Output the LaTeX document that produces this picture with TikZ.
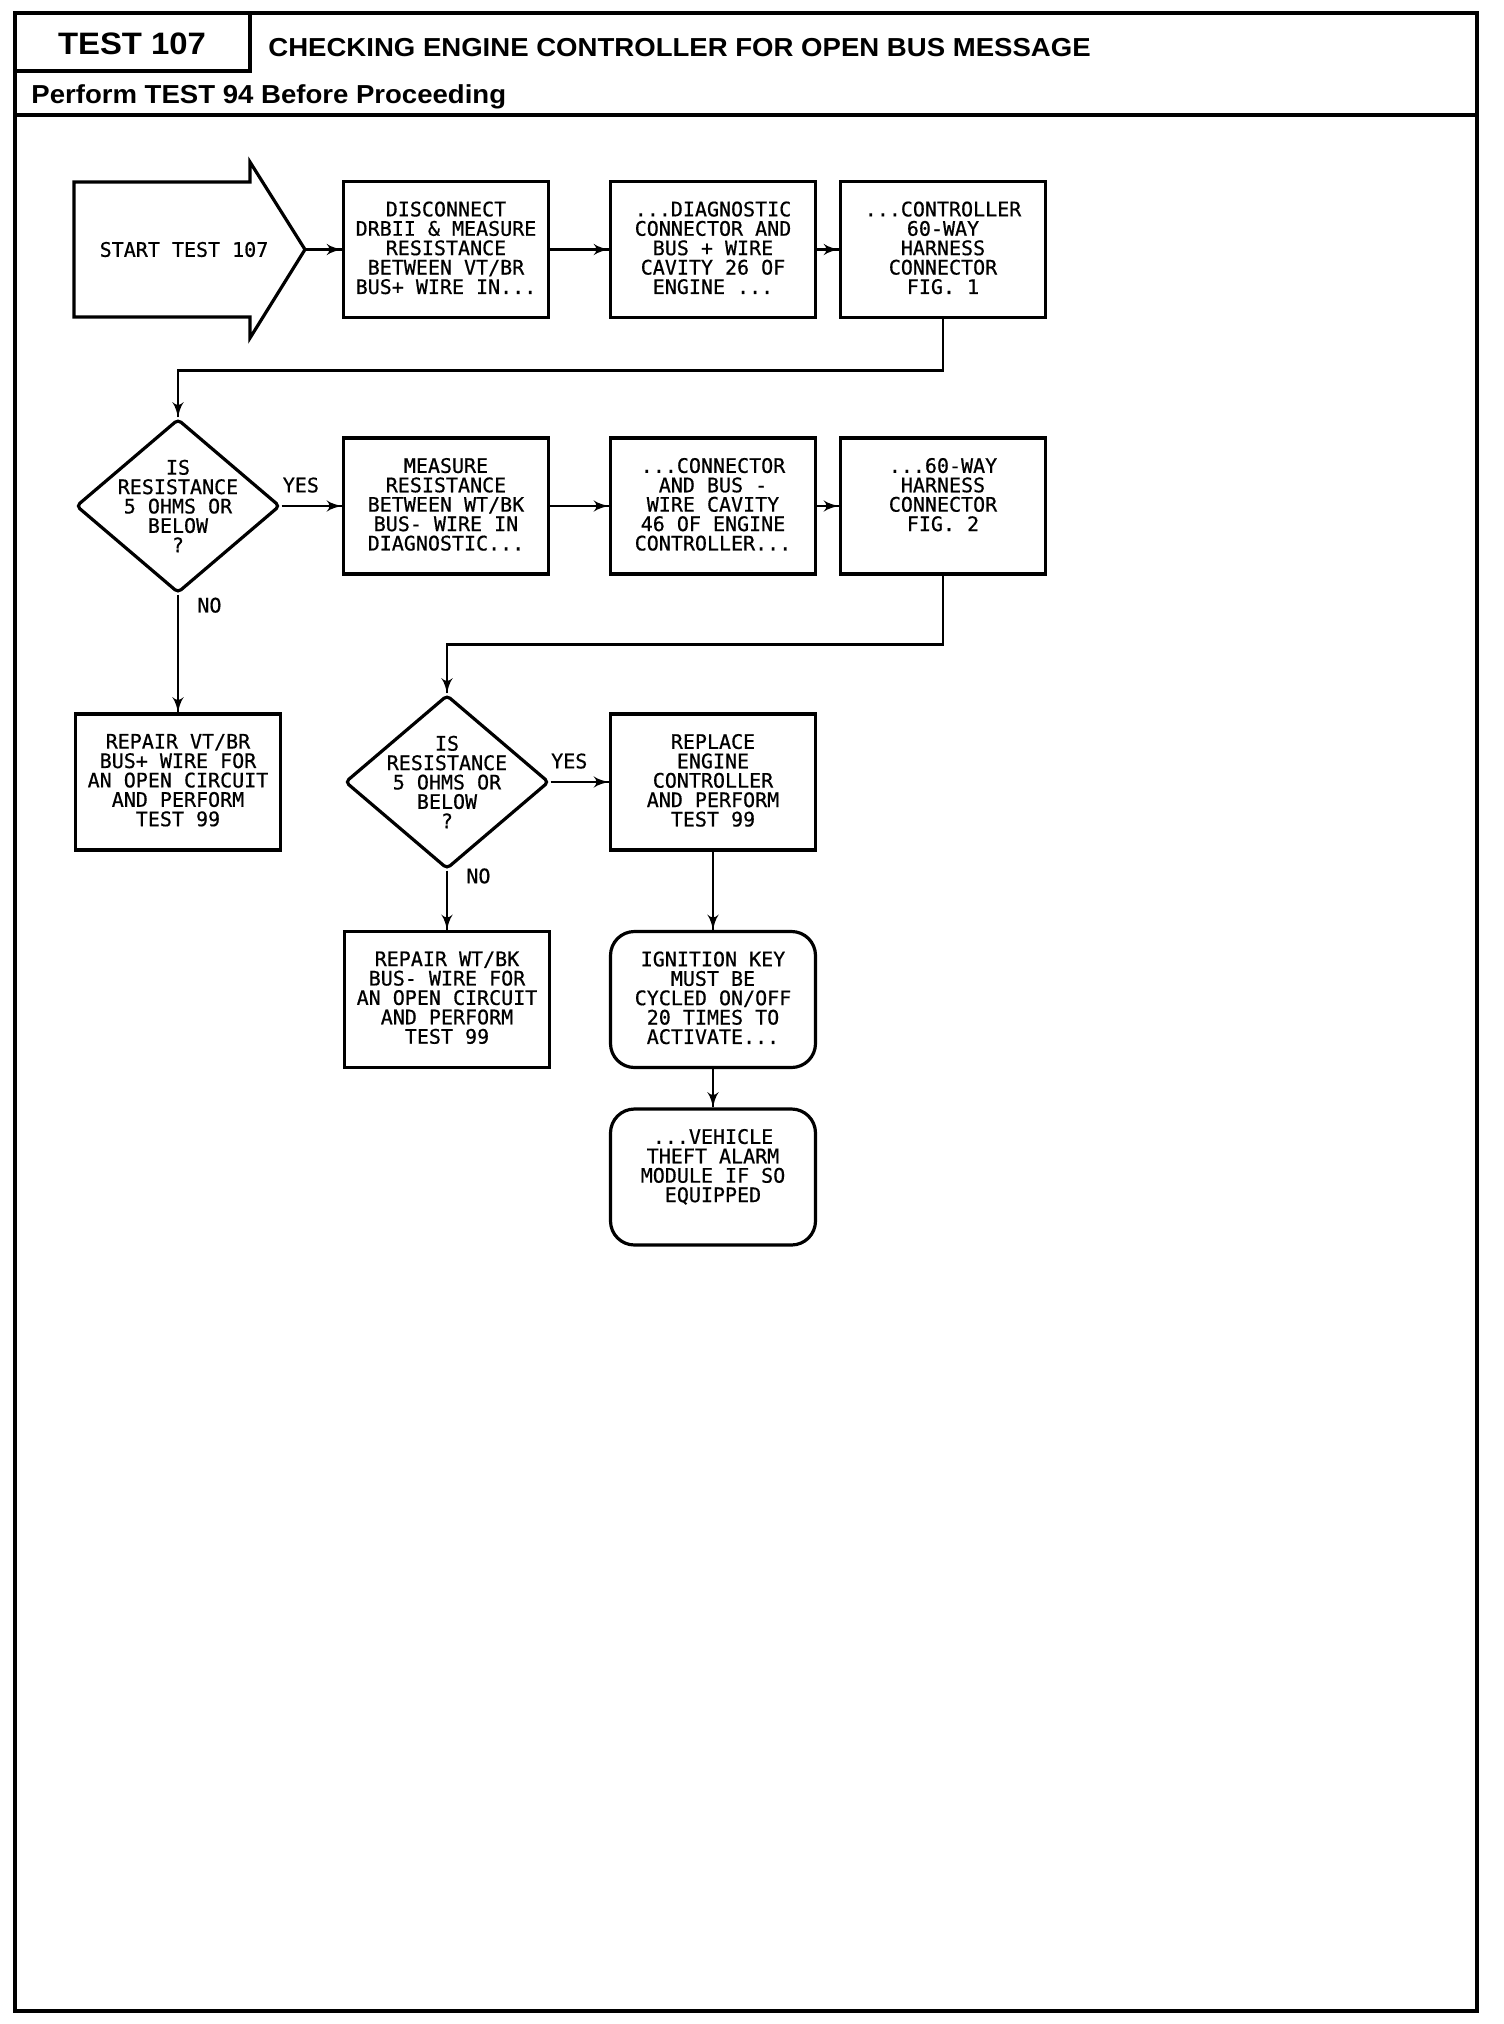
\documentclass[tikz,border=0pt]{standalone}
\usepackage{fontspec}
\usepackage{tikz}
\usetikzlibrary{arrows}
\usetikzlibrary{decorations.markings}
\usetikzlibrary{shapes.geometric}
\usetikzlibrary{positioning}
\newfontfamily\plotfont[FakeBold=0.6]{DejaVu Sans Mono}
\newfontfamily\headfont[FakeStretch=1.06]{Liberation Sans}
\newcommand{\boxfont}{\plotfont\fontsize{10pt}{9.7pt}\selectfont}
\newcommand{\steptext}[1]{\parbox[c][68pt][t]{102.5pt}{\centering\vspace*{10pt}#1}}
\tikzset{flow/.style = {decoration={markings,
                                    mark=at position 1 with {\arrow[scale=1.1]{latex'}}},
                        postaction={decorate}}}
\tikzset{link/.style = {line width=1.4pt, flow}}
\tikzset{stepbox/.style = {draw, line width=1.6pt, inner sep=0, font=\boxfont}}
\tikzset{roundbox/.style = {stepbox, rounded corners=12pt}}
\tikzset{decision/.style = {draw, diamond, line width=1.6pt, inner sep=0,
                            minimum width=102pt, minimum height=87pt, rounded corners=2pt}}
\tikzset{answer/.style = {font=\boxfont, inner sep=0}}
\tikzset{headtext/.style = {inner sep=0, font=\headfont\bfseries}}

\begin{document}
\begin{tikzpicture}[x=0.5pt, y=-0.5pt]
      \useasboundingbox (0, 0) rectangle (1504, 2024);
      \draw [line width=2.2pt] (15, 13) rectangle (1477, 2011);
      \draw [line width=1.6pt] (250, 13) -- (250, 71) -- (15, 71);
      \draw [line width=1.6pt] (15, 115) -- (1477, 115);

      \node [headtext, font=\headfont\bfseries\fontsize{15.5pt}{15.5pt}\selectfont] (testno) at (132, 44) {TEST 107};
      \node [headtext, anchor=base west, font=\headfont\bfseries\fontsize{13pt}{13pt}\selectfont] (title) at (268, 56) {CHECKING ENGINE CONTROLLER FOR OPEN BUS MESSAGE};
      \node [headtext, anchor=base west, font=\headfont\bfseries\fontsize{13pt}{13pt}\selectfont] (perform) at (31, 103) {Perform TEST 94 Before Proceeding};

      \draw [line width=1.6pt] (74, 182) -- (250, 182) -- (250, 162) -- (305, 249.5)
            -- (250, 338) -- (250, 317) -- (74, 317) -- cycle;
      \coordinate (starttip) at (305, 249.5);
      \node [answer] (start) at (184, 249.5) {START TEST 107};

      \node [stepbox] (b1) at (446, 249.5) {\steptext{DISCONNECT\\DRBII \& MEASURE\\RESISTANCE\\BETWEEN VT/BR\\BUS+ WIRE IN...}};
      \node [stepbox] (b2) at (713, 249.5) {\steptext{...DIAGNOSTIC\\CONNECTOR AND\\BUS + WIRE\\CAVITY 26 OF\\ENGINE ...}};
      \node [stepbox] (b3) at (943, 249.5) {\steptext{...CONTROLLER\\60-WAY\\HARNESS\\CONNECTOR\\FIG. 1}};

      \node [decision, label={[answer, align=center]center:{IS\\RESISTANCE\\5 OHMS OR\\BELOW\\?}}] (d1) at (178, 506) {};
      \node [stepbox] (b4) at (446, 506) {\steptext{MEASURE\\RESISTANCE\\BETWEEN WT/BK\\BUS- WIRE IN\\DIAGNOSTIC...}};
      \node [stepbox] (b5) at (713, 506) {\steptext{...CONNECTOR\\AND BUS -\\WIRE CAVITY\\46 OF ENGINE\\CONTROLLER...}};
      \node [stepbox] (b6) at (943, 506) {\steptext{...60-WAY\\HARNESS\\CONNECTOR\\FIG. 2}};

      \node [stepbox] (repair1) at (178, 782) {\steptext{REPAIR VT/BR\\BUS+ WIRE FOR\\AN OPEN CIRCUIT\\AND PERFORM\\TEST 99}};
      \node [decision, label={[answer, align=center]center:{IS\\RESISTANCE\\5 OHMS OR\\BELOW\\?}}] (d2) at (447, 782) {};
      \node [stepbox] (replace) at (713, 782) {\steptext{REPLACE\\ENGINE\\CONTROLLER\\AND PERFORM\\TEST 99}};

      \node [stepbox] (repair2) at (447, 999.5) {\steptext{REPAIR WT/BK\\BUS- WIRE FOR\\AN OPEN CIRCUIT\\AND PERFORM\\TEST 99}};
      \node [roundbox] (ignition) at (713, 999.5) {\steptext{IGNITION KEY\\MUST BE\\CYCLED ON/OFF\\20 TIMES TO\\ACTIVATE...}};
      \node [roundbox] (vehicle) at (713, 1177) {\steptext{...VEHICLE\\THEFT ALARM\\MODULE IF SO\\EQUIPPED}};

      \draw [link] (starttip) -- (b1);
      \draw [link] (b1) -- (b2);
      \draw [link] (b2) -- (b3);
      \draw [link] (b3.south) -- ++(0, 51) -| (d1.north);
      \draw [link] (d1) -- node [answer, pos=0.32, above=6pt] {YES} (b4);
      \draw [link] (d1) -- node [answer, pos=0.09, right=9pt] {NO} (repair1);
      \draw [link] (b4) -- (b5);
      \draw [link] (b5) -- (b6);
      \draw [link] (b6.south) -- ++(0, 69) -| (d2.north);
      \draw [link] (d2) -- node [answer, pos=0.32, above=6pt] {YES} (replace);
      \draw [link] (d2) -- node [answer, pos=0.09, right=9pt] {NO} (repair2);
      \draw [link] (replace) -- (ignition);
      \draw [link] (ignition) -- (vehicle);
\end{tikzpicture}
\end{document}
